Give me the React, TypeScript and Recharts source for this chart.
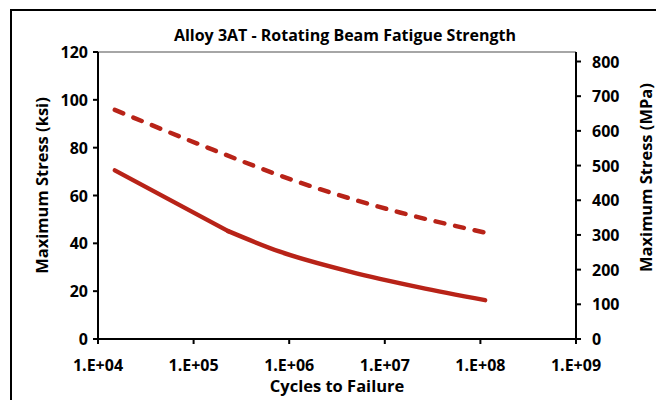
import React from 'react';
import { LineChart, Line, XAxis, YAxis, ReferenceLine, Label } from 'recharts';

// lower (solid) curve: straight run to the knee, then a smooth tail
const solidCycles = [1.5e4, 2.3e5, 8.0e5, 4.3e6, 2.3e7, 1.12e8];
const solidKsi = [70.5, 45.1, 36.5, 28.2, 21.6, 16.25];
// upper (dashed) curve
const dashedCycles = [1.5e4, 1.17e5, 1.3e6, 1.44e7, 1.12e8];
const dashedKsi = [95.8, 81.25, 65.4, 52.9, 44.5];

const xTicks = [1e4, 1e5, 1e6, 1e7, 1e8, 1e9];
const ksiTicks = [0, 20, 40, 60, 80, 100, 120];
const mpaTicks = [0, 100, 200, 300, 400, 500, 600, 700, 800];

const solidData = solidCycles.map((n, i) => ({ n, ksi: solidKsi[i] }));
const solidHead = solidData.slice(0, 2);
const solidTail = solidData.slice(1);
const dashedData = dashedCycles.map((n, i) => ({ n, ksi: dashedKsi[i] }));

const RED = '#b82318';
const FONT = '"Open Sans", "DejaVu Sans", sans-serif';
const labelStyle = { fill: '#000', fontSize: 16.5, fontWeight: 700, fontFamily: FONT };

const fmtSci = (v: number) => `1.E+${String(Math.round(Math.log10(v))).padStart(2, '0')}`;

// custom tick so font settings are applied for sure
const makeTick = (anchor: 'start' | 'middle' | 'end', fmt: (v: number) => string, dx: number, dy: number) =>
    (props: any) => {
        const { x, y, payload } = props;
        return (
            <text
                x={x + dx}
                y={y + dy}
                textAnchor={anchor}
                dominantBaseline="central"
                style={{ fill: '#000', fontSize: 16, fontWeight: 700, fontFamily: FONT }}
            >
                {fmt(payload.value)}
            </text>
        );
    };

const xTick = makeTick('middle', fmtSci, 0, 19);
const leftTick = makeTick('end', (v) => String(v), -3, 0);
const rightTick = makeTick('start', (v) => String(v), 9, 0);

export default function App() {
    return (
        <div style={{ position: 'absolute', left: 0, top: 0, width: 656, height: 400, overflow: 'hidden', background: '#fff', fontFamily: FONT }}>
            <div style={{ position: 'absolute', left: 10, top: 9, width: 656, height: 400, border: '2px solid #000' }} />
            <div style={{ position: 'absolute', left: 110, width: 470, top: 24, textAlign: 'center', fontSize: 16, fontWeight: 700 }}>
                Alloy 3AT - Rotating Beam Fatigue Strength
            </div>
            <div style={{ position: 'absolute', left: 0, top: 0 }}>
                <LineChart width={656} height={400} margin={{ top: 52, right: 0, bottom: 0, left: 0 }}>
                    <XAxis
                        dataKey="n"
                        type="number"
                        scale="log"
                        domain={[1e4, 1e9]}
                        ticks={xTicks}
                        allowDataOverflow
                        height={61}
                        stroke="#000"
                        strokeWidth={2}
                        tickSize={5}
                        tickMargin={2}
                        tick={xTick}
                        interval={0}
                    >
                        <Label value="Cycles to Failure" position="insideBottom" offset={8} style={labelStyle} />
                    </XAxis>
                    <YAxis
                        yAxisId="ksi"
                        domain={[0, 120]}
                        ticks={ksiTicks}
                        width={98}
                        stroke="#000"
                        strokeWidth={2}
                        tickSize={5}
                        tickMargin={2}
                        tick={leftTick}
                        interval={0}
                    >
                        <Label value="Maximum Stress (ksi)" angle={-90} position="center" dx={-7} dy={-10} style={labelStyle} />
                    </YAxis>
                    <YAxis
                        yAxisId="mpa"
                        orientation="right"
                        domain={[0, 827.4]}
                        ticks={mpaTicks}
                        allowDataOverflow
                        width={80}
                        stroke="#000"
                        strokeWidth={2}
                        tickSize={5}
                        tickMargin={2}
                        tick={rightTick}
                        interval={0}
                    >
                        <Label value="Maximum Stress (MPa)" angle={-90} position="center" dx={30} dy={-18} style={labelStyle} />
                    </YAxis>
                    <ReferenceLine yAxisId="ksi" y={120} stroke="#a6a6a6" strokeWidth={2} />
                    <Line
                        yAxisId="ksi"
                        data={dashedData}
                        type="monotone"
                        dataKey="ksi"
                        stroke={RED}
                        strokeWidth={4.5}
                        strokeDasharray="9 11"
                        strokeLinecap="round"
                        dot={false}
                        isAnimationActive={false}
                    />
                    <Line
                        yAxisId="ksi"
                        data={solidHead}
                        type="linear"
                        dataKey="ksi"
                        stroke={RED}
                        strokeWidth={4.5}
                        strokeLinecap="round"
                        dot={false}
                        isAnimationActive={false}
                    />
                    <Line
                        yAxisId="ksi"
                        data={solidTail}
                        type="monotone"
                        dataKey="ksi"
                        stroke={RED}
                        strokeWidth={4.5}
                        strokeLinecap="round"
                        dot={false}
                        isAnimationActive={false}
                    />
                </LineChart>
            </div>
        </div>
    );
}
